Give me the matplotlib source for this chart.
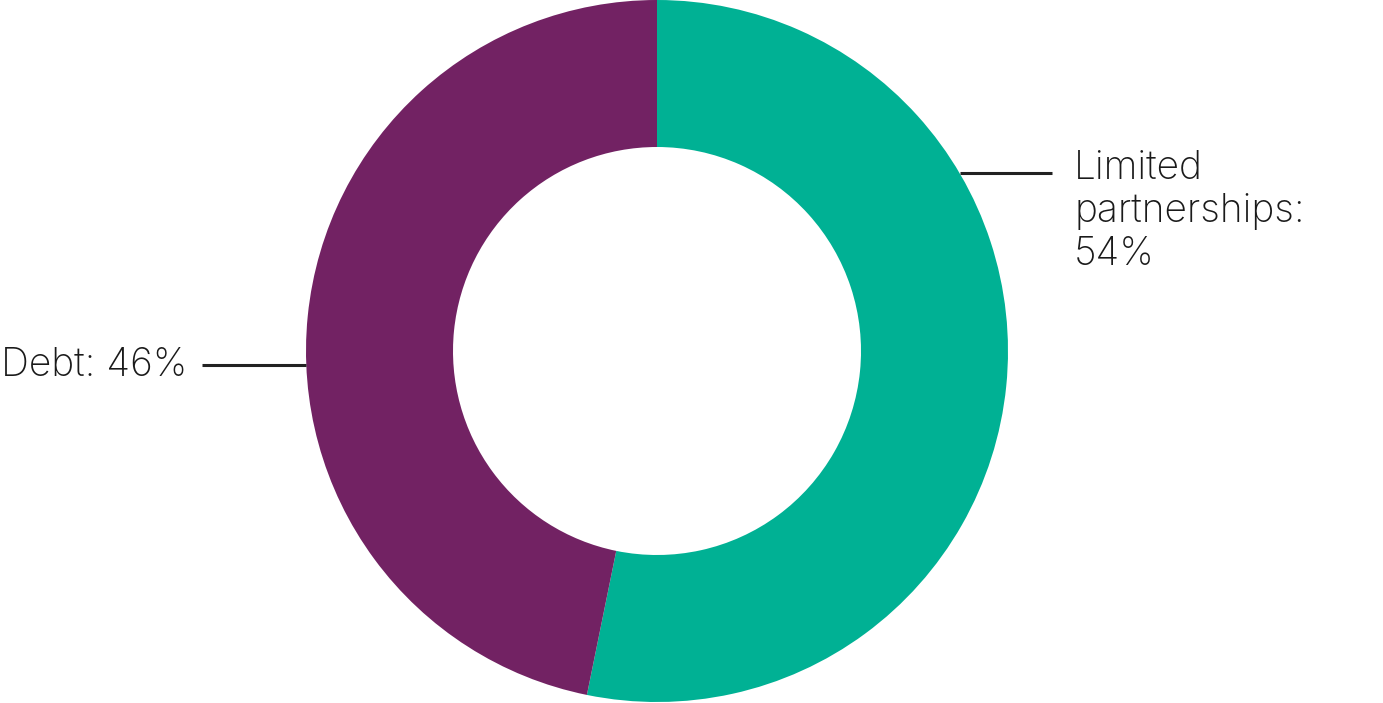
import matplotlib
matplotlib.use("Agg")
import matplotlib.pyplot as plt

labels = ["Limited\npartnerships:\n54%", "Debt: 46%"]
values = [53.2, 46.8]
colors = ["#00B194", "#722263"]

W, H = 1383, 703
fig = plt.figure(figsize=(W / 100, H / 100), dpi=100)
ax = fig.add_axes([0, 0, 1, 1])

cx, cy = 657, H - 351
R = 351
ax.pie(values, colors=colors, startangle=90, counterclock=False,
       center=(cx, cy), radius=R, wedgeprops=dict(width=147, linewidth=0),
       frame=True)
ax.set_xlim(0, W)
ax.set_ylim(0, H)
ax.set_aspect("equal")
ax.axis("off")

font = dict(family=["Inter", "DejaVu Sans"], fontweight="light", fontsize=28, color="#1a1a1a")

# Limited partnerships label
ax.plot([960, 1052], [H - 173, H - 173], color="#222222", lw=2.2, solid_capstyle="butt")
ax.text(1074, H - 150, labels[0], ha="left", va="top", linespacing=1.2, **font)

# Debt label
ax.plot([202, 306], [H - 365, H - 365], color="#222222", lw=2.2, solid_capstyle="butt")
ax.text(1, H - 365, labels[1], ha="left", va="center", **font)

fig.savefig("out.png", dpi=100)
